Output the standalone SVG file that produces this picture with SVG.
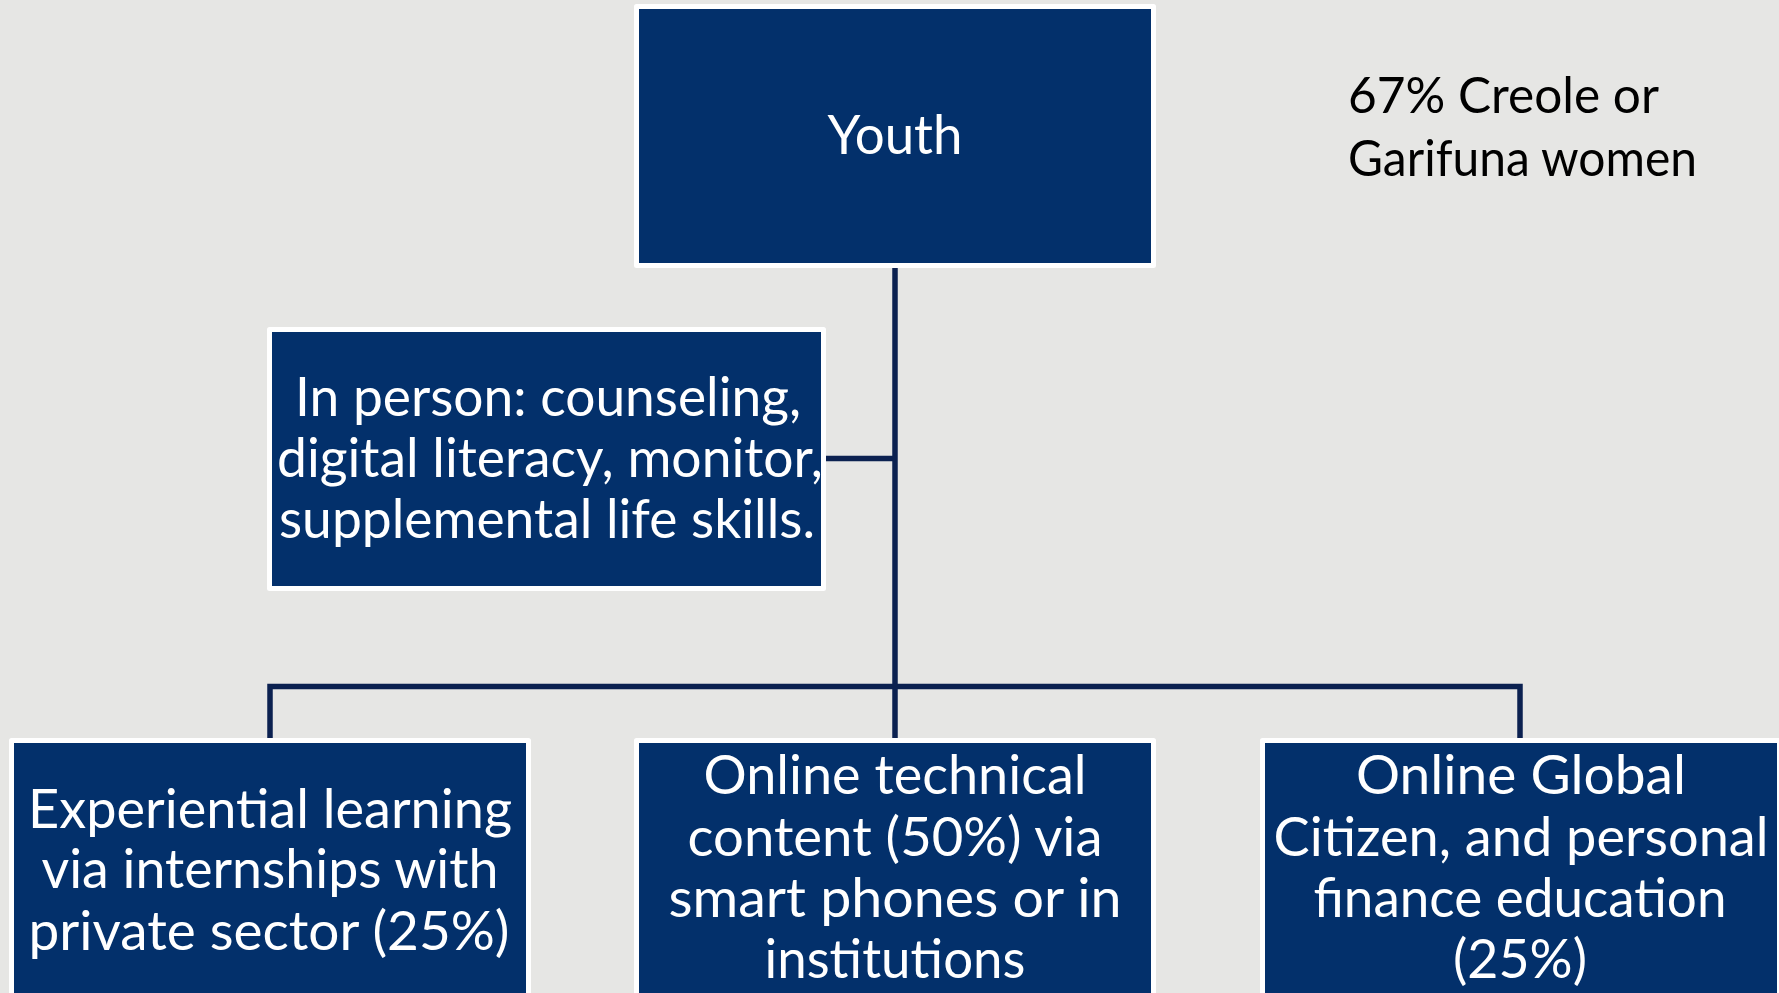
<svg xmlns="http://www.w3.org/2000/svg" width="1779" height="993" viewBox="0 0 1779 993">
  <style>
    .box { fill: #03306b; stroke: #ffffff; stroke-width: 5; stroke-linejoin: round; }
    .lbl { font-family: Lato, "Open Sans", "Liberation Sans", sans-serif; font-size: 54px; fill: #ffffff; text-anchor: middle; }
    .note { font-family: Lato, "Open Sans", "Liberation Sans", sans-serif; font-size: 50px; fill: #000000; }
    .wire { fill: none; stroke: #0b2150; stroke-width: 5.5; stroke-linejoin: miter; stroke-linecap: butt; }
  </style>
  <rect width="1779" height="993" fill="#e6e6e4"/>

  <!-- tree connectors -->
  <g id="connectors">
    <path class="wire" d="M895 268 V738"/>
    <path class="wire" d="M826 458.5 H895"/>
    <path class="wire" d="M270 738 V686.5 H1520 V738"/>
  </g>

  <g id="youth">
    <rect class="box" x="636.5" y="6.5" width="517" height="259"/>
    <text class="lbl" x="895" y="154" textLength="135" lengthAdjust="spacingAndGlyphs">Youth</text>
  </g>

  <g id="in-person">
    <rect class="box" x="269.5" y="329.5" width="554" height="259"/>
    <text class="lbl" x="548" y="416" textLength="506" lengthAdjust="spacingAndGlyphs">In person: counseling,</text>
    <text class="lbl" x="550" y="477" textLength="546" lengthAdjust="spacingAndGlyphs">digital literacy, monitor,</text>
    <text class="lbl" x="547" y="538" textLength="536" lengthAdjust="spacingAndGlyphs">supplemental life skills.</text>
  </g>

  <g id="experiential">
    <rect class="box" x="11.5" y="740.5" width="517" height="259"/>
    <text class="lbl" x="270" y="828" textLength="484" lengthAdjust="spacingAndGlyphs">Experiential learning</text>
    <text class="lbl" x="270" y="888" textLength="457" lengthAdjust="spacingAndGlyphs">via internships with</text>
    <text class="lbl" x="269" y="950" textLength="481" lengthAdjust="spacingAndGlyphs">private sector (25%)</text>
  </g>

  <g id="online-technical">
    <rect class="box" x="636.5" y="740.5" width="517" height="259"/>
    <text class="lbl" x="895" y="794" textLength="383" lengthAdjust="spacingAndGlyphs">Online technical</text>
    <text class="lbl" x="895" y="856" textLength="415" lengthAdjust="spacingAndGlyphs">content (50%) via</text>
    <text class="lbl" x="895" y="917" textLength="453" lengthAdjust="spacingAndGlyphs">smart phones or in</text>
    <text class="lbl" x="895" y="978" textLength="261" lengthAdjust="spacingAndGlyphs">institutions</text>
  </g>

  <g id="online-global">
    <rect class="box" x="1262.5" y="740.5" width="517" height="259"/>
    <text class="lbl" x="1521" y="794" textLength="330" lengthAdjust="spacingAndGlyphs">Online Global</text>
    <text class="lbl" x="1521" y="856" textLength="495" lengthAdjust="spacingAndGlyphs">Citizen, and personal</text>
    <text class="lbl" x="1520" y="917" textLength="413" lengthAdjust="spacingAndGlyphs">finance education</text>
    <text class="lbl" x="1520" y="978" textLength="134" lengthAdjust="spacingAndGlyphs">(25%)</text>
  </g>

  <g id="note">
    <text class="note" x="1348" y="113" textLength="311" lengthAdjust="spacingAndGlyphs">67% Creole or</text>
    <text class="note" x="1348" y="176" textLength="349" lengthAdjust="spacingAndGlyphs">Garifuna women</text>
  </g>
</svg>
